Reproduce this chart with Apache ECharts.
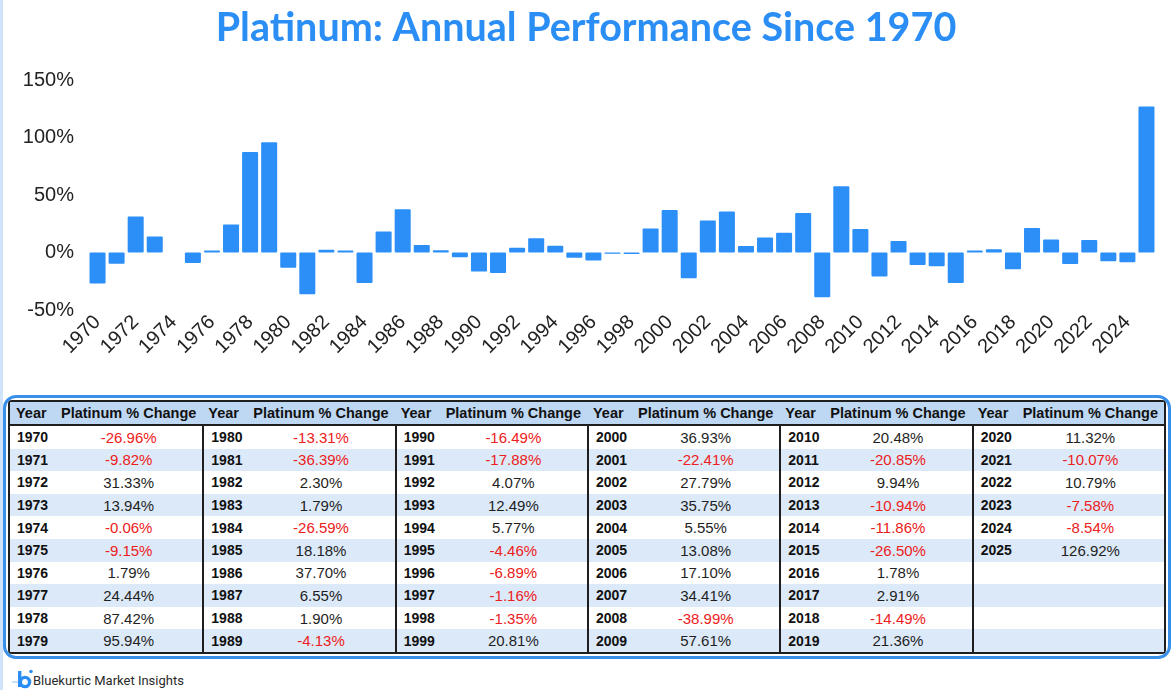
<!DOCTYPE html>
<html>
<head>
<meta charset="utf-8">
<script src="https://cdn.jsdelivr.net/npm/echarts@6/dist/echarts.min.js"></script>
<style>
html,body{margin:0;padding:0;background:#fff;}
body{width:1172px;height:690px;position:relative;overflow:hidden;}
#leftbar{position:absolute;left:0;top:0;width:3px;height:690px;background:#cfe4fa;}
#chart{position:absolute;left:0;top:0;width:1172px;height:392px;}
#wrap{position:absolute;left:3px;top:395px;width:1168px;height:264px;border:3px solid #3a8fe9;border-radius:13px;box-sizing:border-box;padding:2px;}
table{border-collapse:separate;border-spacing:0;table-layout:fixed;width:100%;font-family:'Liberation Sans',Arial,sans-serif;border:2px solid #1e1e1e;border-radius:4px;}
th{height:22px;background:#bed7f2;font-weight:bold;font-size:14.5px;color:#111;border-bottom:2px solid #1e1e1e;padding:0;white-space:nowrap;}
th.y{text-align:left;padding-left:6px;}
td{height:22.6px;padding:0;white-space:nowrap;}
td.y{font-weight:bold;font-size:14px;color:#111;padding-left:7px;}
td.v{text-align:center;font-size:15px;color:#1f1f1f;}
td.neg{color:#ec2020;}
td.sep{border-left:2px solid #1e1e1e;}
tr.alt td{background:#dce9f8;}
#footer{position:absolute;left:12px;top:668px;height:22px;}
#footer span{position:absolute;left:21px;top:5px;font-family:Roboto,'Noto Sans',sans-serif;font-size:13px;color:#2a2a2a;white-space:nowrap;}
</style>
</head>
<body>
<div id="leftbar"></div>
<div id="chart"></div>
<div id="wrap"><table id="tbl"></table></div>
<div id="footer">
<svg width="22" height="22" viewBox="0 0 22 22" style="position:absolute;left:0;top:0">
<line x1="0" y1="14" x2="7" y2="14" stroke="#8ec2f5" stroke-width="1"/>
<rect x="6" y="3" width="3.4" height="16" fill="#2b8ef5"/>
<circle cx="13" cy="14" r="4.6" fill="none" stroke="#2b8ef5" stroke-width="3.4"/>
<circle cx="19" cy="3.5" r="1.8" fill="#2b8ef5"/>
</svg>
<span>Bluekurtic Market Insights</span>
</div>
<script>
const titleText = 'Platinum: Annual Performance Since 1970';
const years = ['1970','1971','1972','1973','1974','1975','1976','1977','1978','1979',
  '1980','1981','1982','1983','1984','1985','1986','1987','1988','1989',
  '1990','1991','1992','1993','1994','1995','1996','1997','1998','1999',
  '2000','2001','2002','2003','2004','2005','2006','2007','2008','2009',
  '2010','2011','2012','2013','2014','2015','2016','2017','2018','2019',
  '2020','2021','2022','2023','2024','2025'];
const changes = [-26.96,-9.82,31.33,13.94,-0.06,-9.15,1.79,24.44,87.42,95.94,
  -13.31,-36.39,2.30,1.79,-26.59,18.18,37.70,6.55,1.90,-4.13,
  -16.49,-17.88,4.07,12.49,5.77,-4.46,-6.89,-1.16,-1.35,20.81,
  36.93,-22.41,27.79,35.75,5.55,13.08,17.10,34.41,-38.99,57.61,
  20.48,-20.85,9.94,-10.94,-11.86,-26.50,1.78,2.91,-14.49,21.36,
  11.32,-10.07,10.79,-7.58,-8.54,126.92];
const headerYear = 'Year';
const headerChange = 'Platinum % Change';
const yMin = -50, yMax = 150, yInterval = 50;

// Table
(function(){
  const groups = 6, rows = 10;
  let html = '<colgroup>';
  for (let g = 0; g < groups; g++) html += '<col style="width:45px"><col>';
  html += '</colgroup><tr>';
  for (let g = 0; g < groups; g++) html += '<th class="y">' + headerYear + '</th><th>' + headerChange + '</th>';
  html += '</tr>';
  for (let r = 0; r < rows; r++) {
    html += '<tr' + (r % 2 === 1 ? ' class="alt"' : '') + '>';
    for (let g = 0; g < groups; g++) {
      const i = g * rows + r;
      const sep = g > 0 ? ' sep' : '';
      if (i < years.length) {
        const v = changes[i];
        html += '<td class="y' + sep + '">' + years[i] + '</td><td class="v' + (v < 0 ? ' neg' : '') + '">' + v.toFixed(2) + '%</td>';
      } else {
        html += '<td class="y' + sep + '"></td><td class="v"></td>';
      }
    }
    html += '</tr>';
  }
  document.getElementById('tbl').innerHTML = html;
})();

const chart = echarts.init(document.getElementById('chart'), null, {renderer: 'canvas'});
chart.setOption({
  animation: false,
  title: {
    text: titleText, left: 'center', top: 3,
    textStyle: {fontFamily: 'Lato', fontWeight: 'bold', fontSize: 39.5, color: '#2b8ef5'}
  },
  grid: {left: 88, right: 16, top: 80, height: 230},
  xAxis: {
    type: 'category', data: years,
    axisLine: {show: false, onZero: false}, axisTick: {show: false},
    axisLabel: {interval: 1, rotate: 45, fontSize: 20, color: '#222', fontFamily: 'Liberation Sans', margin: 9}
  },
  yAxis: {
    type: 'value', min: yMin, max: yMax, interval: yInterval,
    splitLine: {show: false}, axisLine: {show: false}, axisTick: {show: false},
    axisLabel: {formatter: '{value}%', fontSize: 20, color: '#222', fontFamily: 'Liberation Sans', margin: 14}
  },
  series: [{
    type: 'bar', data: changes, barCategoryGap: '16%',
    itemStyle: {color: '#2b8ff7', borderRadius: 1}
  }]
});
</script>
</body>
</html>
